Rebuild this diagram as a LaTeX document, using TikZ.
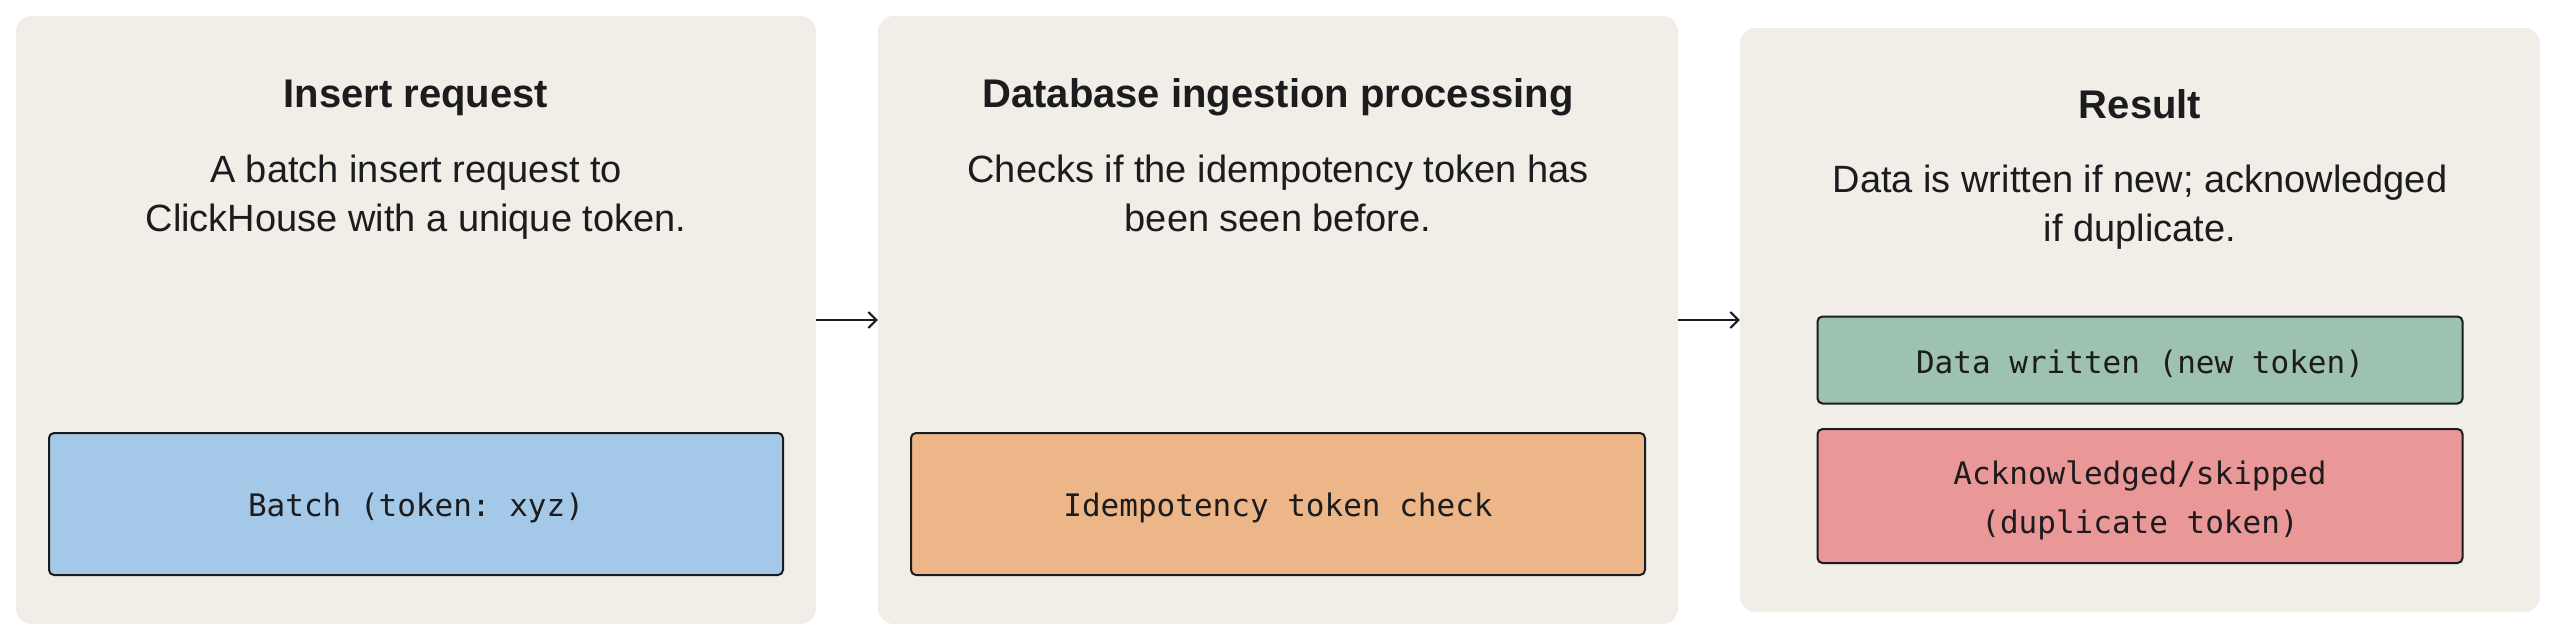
\documentclass[tikz,border=0pt]{standalone}
\usepackage{fontspec}
\setmainfont{Liberation Sans}
\setmonofont{DejaVu Sans Mono}
\usetikzlibrary{arrows.meta}
\definecolor{panelbg}{HTML}{F1EDE7}
\definecolor{inkc}{HTML}{1C1C1E}
\definecolor{bluef}{HTML}{A4C8E8}
\definecolor{orangef}{HTML}{EDB689}
\definecolor{greenf}{HTML}{9DC2B0}
\definecolor{redf}{HTML}{E99797}
\newcommand{\dnshift}[1]{\raisebox{-4pt}[\height][\depth]{#1}}
\tikzset{
  panel/.style={rectangle, rounded corners=16pt, fill=panelbg, draw=none, minimum width=800pt, inner sep=0pt},
  ptitle/.style={anchor=base, text=inkc, inner sep=0pt, font=\fontsize{40}{48}\selectfont\bfseries},
  pdesc/.style={anchor=base, text=inkc, inner sep=0pt, align=center, font=\fontsize{38}{49}\selectfont},
  codebox/.style={rectangle, rounded corners=5pt, draw=inkc, line width=2pt, text=inkc, align=center, font=\fontsize{31}{49}\selectfont\ttfamily},
  flow/.style={draw=inkc, line width=2pt, -{Straight Barb[length=8pt,width=16pt,line width=2pt]}}
}
\begin{document}
\begin{tikzpicture}[x=1pt,y=-1pt]
\useasboundingbox[fill=white] (0,0) rectangle (2560,640);
\node[panel, minimum height=608pt] (p1) at (416,320) {};
\node[panel, minimum height=608pt] (p2) at (1278,320) {};
\node[panel, minimum height=584pt] (p3) at (2140,320) {};
\node[ptitle] (t1) at (416,107) {Insert request};
\node[ptitle] (t2) at (1278,107) {Database ingestion processing};
\node[ptitle] (t3) at (2140,118) {Result};
\node[pdesc] (d1) at (416,231) {A batch insert request to\\ClickHouse with a unique token.};
\node[pdesc] (d2) at (1278,231) {Checks if the idempotency token has\\been seen before.};
\node[pdesc] (d3) at (2140,241) {Data is written if new; acknowledged\\if duplicate.};
\node[codebox, fill=bluef, minimum width=734pt, minimum height=142pt] (b1) at (416,504) {\dnshift{Batch (token: xyz)}};
\node[codebox, fill=orangef, minimum width=734pt, minimum height=142pt] (b2) at (1278,504) {\dnshift{Idempotency token check}};
\node[codebox, fill=greenf, minimum width=645pt, minimum height=87pt] (b3) at (2140,360) {\dnshift{Data written (new token)}};
\node[codebox, fill=redf, minimum width=645pt, minimum height=134pt] (b4) at (2140,496) {\dnshift{Acknowledged/skipped}\\\dnshift{(duplicate token)}};
\draw[flow] (p1.east) -- (p2.west);
\draw[flow] (p2.east) -- (p3.west);
\end{tikzpicture}
\end{document}
